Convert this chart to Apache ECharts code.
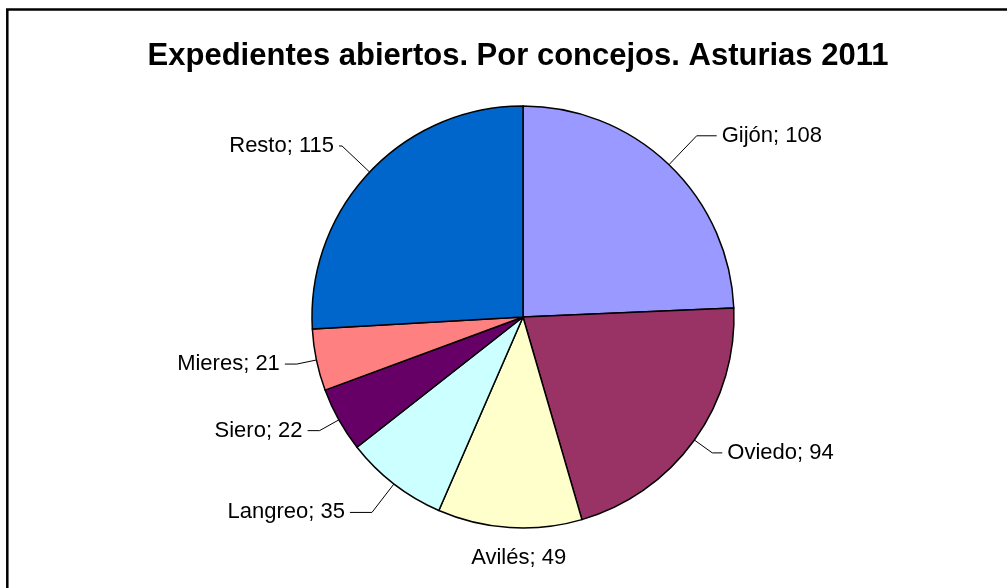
<!DOCTYPE html>
<html>
<head>
<meta charset="utf-8">
<script src="https://cdn.jsdelivr.net/npm/echarts@6/dist/echarts.min.js"></script>
<style>
html,body{margin:0;padding:0;background:#fff;}
#chart{width:1007px;height:588px;}
</style>
</head>
<body>
<div id="chart"></div>
<script>
var titleText = 'Expedientes abiertos. Por concejos. Asturias 2011';
var categories = ['Gijón', 'Oviedo', 'Avilés', 'Langreo', 'Siero', 'Mieres', 'Resto'];
var values = [108, 94, 49, 35, 22, 21, 115];
var colors = ['#9999FF', '#993366', '#FFFFCC', '#CCFFFF', '#660066', '#FF8080', '#0066CC'];

// leader line lengths per slice (styling, not data)
var lineLen = [40, 22, 30, 36, 22, 20, 38];
var lineLen2 = [20, 10, 0, 22, 12, 12, 3];

var FONT = '"Liberation Sans", Arial, sans-serif';

var dataItems = categories.map(function (c, i) {
  var item = {
    name: c,
    value: values[i],
    itemStyle: { color: colors[i] },
    labelLine: { length: lineLen[i], length2: lineLen2[i] }
  };
  if (lineLen2[i] === 0) {
    item.labelLine.show = false;
  }
  return item;
});

var chart = echarts.init(document.getElementById('chart'), null, { renderer: 'canvas' });
chart.setOption({
  animation: false,
  backgroundColor: '#ffffff',
  title: {
    text: titleText,
    left: 513,
    top: 51,
    textAlign: 'center',
    textVerticalAlign: 'middle',
    textStyle: { fontFamily: FONT, fontWeight: 'bold', fontSize: 31, color: '#000' }
  },
  graphic: [{
    type: 'rect',
    shape: { x: 7.3, y: 9.5, width: 1200, height: 800 },
    style: { fill: 'none', stroke: '#000', lineWidth: 2.5 },
    silent: true
  }],
  series: [{
    type: 'pie',
    center: [523, 317],
    radius: 211,
    startAngle: 90,
    clockwise: true,
    avoidLabelOverlap: false,
    data: dataItems,
    itemStyle: { borderColor: '#000', borderWidth: 1.5 },
    label: {
      show: true,
      position: 'outside',
      formatter: function (p) { return p.name + '; ' + p.value; },
      fontFamily: FONT,
      fontSize: 22,
      color: '#000'
    },
    labelLine: {
      show: true,
      smooth: false,
      lineStyle: { color: '#000', width: 1 }
    },
    labelLayout: function (p) {
      if (lineLen2[p.dataIndex] === 0) {
        return { align: 'center', verticalAlign: 'middle', dx: 16 };
      }
    },
    emphasis: { disabled: true }
  }]
});
</script>
</body>
</html>
